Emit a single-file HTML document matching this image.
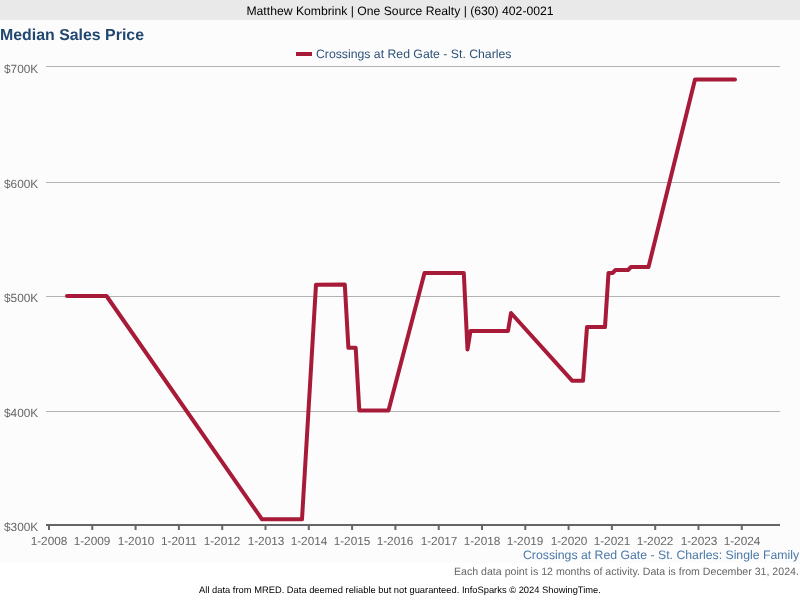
<!DOCTYPE html>
<html><head><meta charset="utf-8">
<style>
html,body{margin:0;padding:0;background:#fff;}
body{width:800px;height:600px;position:relative;overflow:hidden;font-family:"Liberation Sans",sans-serif;text-rendering:geometricPrecision;}
.t{position:absolute;white-space:nowrap;line-height:1;-webkit-font-smoothing:antialiased;will-change:transform;}
#hdr{position:absolute;left:0;top:0;width:800px;height:20px;background:#e9e9e9;}
#hdrt{left:0;width:800px;text-align:center;top:4.8px;font-size:12.2px;color:#000;}
#title{left:0.3px;top:28px;font-size:15.9px;font-weight:bold;color:#224870;}
.yl{font-size:11.85px;color:#666;left:4.2px;}
.xl{font-size:11.8px;color:#666;}
#leg{left:316px;top:47.8px;font-size:12.25px;color:#2d5079;}
#sub1{right:0.5px;top:549px;font-size:12.27px;color:#4a78a8;}
#sub2{right:1px;top:566.8px;font-size:10.6px;color:#666;}
#foot{left:0;width:800px;text-align:center;top:585.5px;font-size:9.35px;color:#000;}
svg{position:absolute;left:0;top:0;}
</style></head><body>
<div id="hdr"></div><div style="position:absolute;left:0;top:20px;width:800px;height:543px;background:#fcfcfc"></div>
<div class="t" id="hdrt">Matthew Kombrink | One Source Realty | (630) 402-0021</div>
<div class="t" id="title">Median Sales Price</div>
<svg width="800" height="600" viewBox="0 0 800 600">
  <g stroke="#b3b3b3" stroke-width="1">
    <line x1="46" y1="66.5" x2="780" y2="66.5"/>
    <line x1="46" y1="182.5" x2="780" y2="182.5"/>
    <line x1="46" y1="296.5" x2="780" y2="296.5"/>
    <line x1="46" y1="411.5" x2="780" y2="411.5"/>
  </g>
  <g stroke="#666" stroke-width="2">
    <line x1="46" y1="525" x2="780" y2="525"/>
  </g>
  <g stroke="#666" stroke-width="2"><line x1="49.0" y1="526" x2="49.0" y2="530"/><line x1="92.3" y1="526" x2="92.3" y2="530"/><line x1="135.6" y1="526" x2="135.6" y2="530"/><line x1="178.9" y1="526" x2="178.9" y2="530"/><line x1="222.2" y1="526" x2="222.2" y2="530"/><line x1="265.5" y1="526" x2="265.5" y2="530"/><line x1="308.8" y1="526" x2="308.8" y2="530"/><line x1="352.1" y1="526" x2="352.1" y2="530"/><line x1="395.4" y1="526" x2="395.4" y2="530"/><line x1="438.7" y1="526" x2="438.7" y2="530"/><line x1="482.0" y1="526" x2="482.0" y2="530"/><line x1="525.3" y1="526" x2="525.3" y2="530"/><line x1="568.6" y1="526" x2="568.6" y2="530"/><line x1="611.9" y1="526" x2="611.9" y2="530"/><line x1="655.2" y1="526" x2="655.2" y2="530"/><line x1="698.5" y1="526" x2="698.5" y2="530"/><line x1="741.8" y1="526" x2="741.8" y2="530"/></g>
  <line x1="296" y1="54" x2="312" y2="54" stroke="#a81b38" stroke-width="4"/>
  <polyline fill="none" stroke="#a81b38" stroke-width="4" stroke-linejoin="round" stroke-linecap="round"
   points="67,296 106.5,296 262,519.3 302,519.3 316,284.7 344.8,284.6 348.4,347.8 355.7,347.8 359.3,410.4 388.5,410.4 424.5,273 463.8,273 467.5,349.5 470.5,331 508,331 511,313 572.3,380.8 583,380.8 587,327 605,327 608.5,273 612.5,273 615.5,270 628,270 631,267 648.5,267 695,79.5 735,79.5"/>
</svg>
<div class="t yl" style="top:63.8px">$700K</div>
<div class="t yl" style="top:178.8px">$600K</div>
<div class="t yl" style="top:292.8px">$500K</div>
<div class="t yl" style="top:407.8px">$400K</div>
<div class="t yl" style="top:521.8px">$300K</div>
<div class="t xl" style="left:-1.0px;width:100px;text-align:center;top:535.6px">1-2008</div><div class="t xl" style="left:42.3px;width:100px;text-align:center;top:535.6px">1-2009</div><div class="t xl" style="left:85.6px;width:100px;text-align:center;top:535.6px">1-2010</div><div class="t xl" style="left:128.9px;width:100px;text-align:center;top:535.6px">1-2011</div><div class="t xl" style="left:172.2px;width:100px;text-align:center;top:535.6px">1-2012</div><div class="t xl" style="left:215.5px;width:100px;text-align:center;top:535.6px">1-2013</div><div class="t xl" style="left:258.8px;width:100px;text-align:center;top:535.6px">1-2014</div><div class="t xl" style="left:302.1px;width:100px;text-align:center;top:535.6px">1-2015</div><div class="t xl" style="left:345.4px;width:100px;text-align:center;top:535.6px">1-2016</div><div class="t xl" style="left:388.7px;width:100px;text-align:center;top:535.6px">1-2017</div><div class="t xl" style="left:432.0px;width:100px;text-align:center;top:535.6px">1-2018</div><div class="t xl" style="left:475.3px;width:100px;text-align:center;top:535.6px">1-2019</div><div class="t xl" style="left:518.6px;width:100px;text-align:center;top:535.6px">1-2020</div><div class="t xl" style="left:561.9px;width:100px;text-align:center;top:535.6px">1-2021</div><div class="t xl" style="left:605.2px;width:100px;text-align:center;top:535.6px">1-2022</div><div class="t xl" style="left:648.5px;width:100px;text-align:center;top:535.6px">1-2023</div><div class="t xl" style="left:691.8px;width:100px;text-align:center;top:535.6px">1-2024</div>
<div class="t" id="leg">Crossings at Red Gate - St. Charles</div>
<div class="t" id="sub1">Crossings at Red Gate - St. Charles: Single Family</div>
<div class="t" id="sub2">Each data point is 12 months of activity. Data is from December 31, 2024.</div>
<div class="t" id="foot">All data from MRED. Data deemed reliable but not guaranteed. InfoSparks © 2024 ShowingTime.</div>
</body></html>
